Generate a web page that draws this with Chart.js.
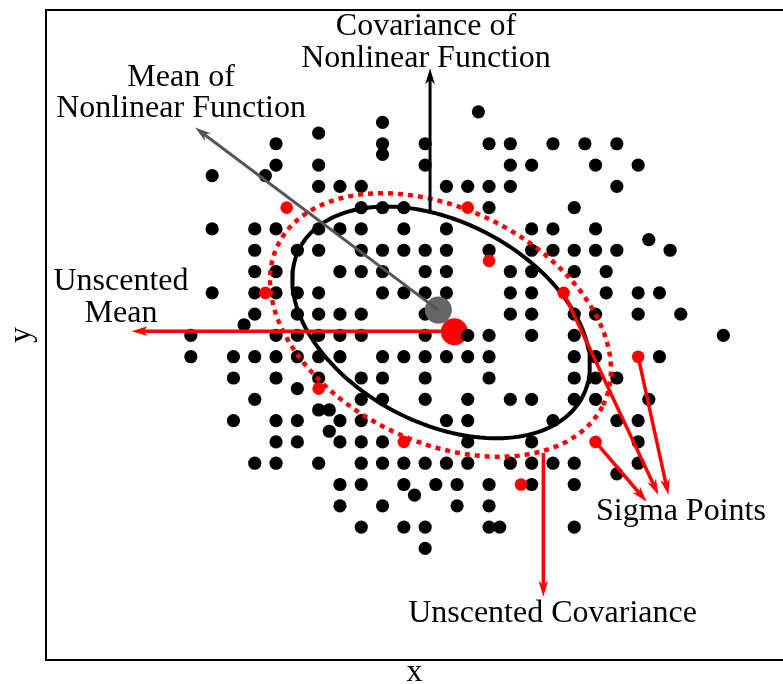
<!DOCTYPE html>
<html>
<head>
<meta charset="utf-8">
<script src="https://cdn.jsdelivr.net/npm/chart.js@4.4.1/dist/chart.umd.min.js"></script>
<style>
  html, body { margin: 0; padding: 0; background: #fff; }
  #wrap { width: 783px; height: 684px; }
</style>
</head>
<body>
<div id="wrap"><canvas id="ukf" width="783" height="684"></canvas></div>
<script>
// samples pushed through the nonlinear function, one entry per row: [y, [x, x, ...]]
const sampleRows = [
  [1.05, [0.15]],
  [1.0, [-0.3]],
  [0.95, [-0.6]],
  [0.9, [-0.8, -0.3, -0.1, 0.2, 0.3, 0.5, 0.65, 0.8]],
  [0.85, [-0.3]],
  [0.8, [-0.8, -0.6, -0.1, 0.3, 0.4, 0.7, 0.9]],
  [0.75, [-1.1, -0.85]],
  [0.7, [-0.6, -0.5, -0.4, 0, 0.1, 0.2, 0.3, 0.8]],
  [0.6, [-0.4, -0.3, -0.2, 0.2, 0.6]],
  [0.5, [-1.1, -0.9, -0.8, -0.6, -0.5, -0.4, -0.2, 0, 0.4, 0.5, 0.7]],
  [0.45, [0.95]],
  [0.4, [-0.9, -0.7, -0.6, -0.4, -0.3, -0.2, -0.1, 0, 0.2, 0.4, 0.5, 0.6, 0.7, 0.8, 1.05]],
  [0.3, [-0.9, -0.8, -0.5, -0.4, -0.3, -0.1, 0, 0.3, 0.4, 0.6, 0.75]],
  [0.2, [-1.1, -0.9, -0.8, -0.7, -0.6, -0.3, -0.2, -0.1, 0, 0.3, 0.4, 0.75, 0.9, 1.0]],
  [0.1, [-0.9, -0.7, -0.6, -0.5, -0.4, -0.1, 0.3, 0.4, 0.6, 0.7, 0.9, 1.1]],
  [0.05, [-0.95]],
  [0, [-1.2, -0.8, -0.7, -0.6, -0.5, -0.4, -0.1, 0.1, 0.2, 0.4, 0.6, 1.3]],
  [-0.1, [-1.2, -1.0, -0.9, -0.8, -0.7, -0.6, -0.5, -0.3, -0.2, -0.1, 0, 0.1, 0.2, 0.6, 0.7, 1.0]],
  [-0.2, [-1.0, -0.8, -0.6, -0.4, -0.3, -0.1, 0.2, 0.6, 0.7, 0.8]],
  [-0.25, [-0.7]],
  [-0.3, [-0.9, -0.4, -0.3, -0.1, 0.1, 0.3, 0.4, 0.6, 0.7, 0.95]],
  [-0.35, [-0.6, -0.55]],
  [-0.4, [-1.0, -0.8, -0.7, -0.5, -0.4, 0, 0.1, 0.5, 0.8, 0.9]],
  [-0.45, [-0.55]],
  [-0.5, [-0.8, -0.7, -0.5, -0.4, -0.3, 0.1, 0.4, 0.9]],
  [-0.6, [-0.9, -0.8, -0.6, -0.4, -0.3, -0.2, -0.1, 0, 0.1, 0.3, 0.4, 0.5, 0.6, 0.9]],
  [-0.65, [0.8]],
  [-0.7, [-0.5, -0.4, -0.2, -0.05, 0.05, 0.2, 0.4, 0.6]],
  [-0.75, [-0.15]],
  [-0.8, [-0.5, -0.3, 0.05, 0.2]],
  [-0.9, [-0.4, -0.2, -0.1, 0.2, 0.25, 0.6]],
  [-1.0, [-0.1]]
];

// transformed sigma points
const sigmaX = [-0.75, 0.1, 0.2, -0.85, 0.55, -0.6, -0.2, 0.7, 0.35, 0.9];
const sigmaY = [0.6, 0.6, 0.35, 0.2, 0.2, -0.25, -0.5, -0.5, -0.7, -0.1];

const trueMean = [-0.038, 0.119];
const unscentedMean = [0.037, 0.017];

// covariance ellipses: [cx, cy, semi-major, semi-minor, tilt in degrees]
const trueCov = [-0.025, 0.061, 0.750, 0.471, -27.8];
const unscentedCov = [-0.028, 0.049, 0.851, 0.547, -26.3];

// annotation arrows: [fromX, fromY, toX, toY, colour, width]
const arrows = [
  [trueMean[0], trueMean[1], -1.180, 0.976, '#555555', 3],
  [-0.077, 0.584, -0.077, 1.255, '#000000', 3],
  [unscentedMean[0], 0.02, -1.478, 0.02, '#ff0000', 3.5],
  [0.455, -0.552, 0.455, -1.227, '#ff0000', 3.5],
  [0.55, 0.2, 0.995, -0.749, '#ff0000', 3.5],
  [0.7, -0.5, 0.940, -0.781, '#ff0000', 3.5],
  [0.9, -0.1, 1.042, -0.749, '#ff0000', 3.5]
];

// annotation text, anchored at the centre of its baseline
const notes = [
  ['Covariance of', -0.096, 1.410],
  ['Nonlinear Function', -0.096, 1.262],
  ['Mean of', -1.246, 1.171],
  ['Nonlinear Function', -1.246, 1.024],
  ['Unscented', -1.528, 0.213],
  ['Mean', -1.528, 0.064],
  ['Sigma Points', 1.101, -0.867],
  ['Unscented Covariance', 0.498, -1.344]
];

const FONT = '32px "Liberation Serif", "Times New Roman", serif';

const samples = [];
sampleRows.forEach(function (row) {
  row[1].forEach(function (x) { samples.push({ x: x, y: row[0] }); });
});

const sigmaPts = sigmaX.map(function (x, i) { return { x: x, y: sigmaY[i] }; });

// trace an ellipse outline from its centre, semi-axes and tilt
function ellipseOutline(e) {
  const pts = [];
  const phi = e[4] * Math.PI / 180;
  const n = 160;
  for (let i = 0; i <= n; i++) {
    const t = 2 * Math.PI * i / n;
    const u = e[2] * Math.cos(t), v = e[3] * Math.sin(t);
    pts.push({
      x: e[0] + u * Math.cos(phi) - v * Math.sin(phi),
      y: e[1] + u * Math.sin(phi) + v * Math.cos(phi)
    });
  }
  return pts;
}

function drawArrow(ctx, x0, y0, x1, y1, color, width) {
  const len = 16, half = 4.8;
  const ang = Math.atan2(y1 - y0, x1 - x0);
  const c = Math.cos(ang), s = Math.sin(ang);
  const bx = x1 - c * len, by = y1 - s * len;
  const nx = x1 - c * len * 0.72, ny = y1 - s * len * 0.72;
  ctx.strokeStyle = color;
  ctx.lineWidth = width;
  ctx.lineCap = 'butt';
  ctx.beginPath();
  ctx.moveTo(x0, y0);
  ctx.lineTo(nx, ny);
  ctx.stroke();
  ctx.fillStyle = color;
  ctx.beginPath();
  ctx.moveTo(x1, y1);
  ctx.lineTo(bx - s * half, by + c * half);
  ctx.lineTo(nx, ny);
  ctx.lineTo(bx + s * half, by - c * half);
  ctx.closePath();
  ctx.fill();
}

// frame on the left, top and bottom of the plot area
const framePlugin = {
  id: 'frame',
  beforeDatasetsDraw(chart) {
    const a = chart.chartArea, ctx = chart.ctx;
    ctx.save();
    ctx.strokeStyle = '#000';
    ctx.lineWidth = 2;
    ctx.beginPath();
    ctx.moveTo(a.right + 2, a.top);
    ctx.lineTo(a.left, a.top);
    ctx.lineTo(a.left, a.bottom);
    ctx.lineTo(a.right + 2, a.bottom);
    ctx.stroke();
    ctx.restore();
  }
};

// arrows, annotation text and axis titles
const notesPlugin = {
  id: 'notes',
  afterDatasetsDraw(chart) {
    const xs = chart.scales.x, ys = chart.scales.y, ctx = chart.ctx;
    const a = chart.chartArea;
    ctx.save();
    arrows.forEach(function (ar) {
      drawArrow(ctx, xs.getPixelForValue(ar[0]), ys.getPixelForValue(ar[1]),
        xs.getPixelForValue(ar[2]), ys.getPixelForValue(ar[3]), ar[4], ar[5]);
    });
    ctx.fillStyle = '#000';
    ctx.font = FONT;
    ctx.textAlign = 'center';
    ctx.textBaseline = 'alphabetic';
    notes.forEach(function (n) {
      ctx.fillText(n[0], xs.getPixelForValue(n[1]), ys.getPixelForValue(n[2]));
    });
    ctx.fillText('x', (a.left + a.right) / 2, a.bottom + 21);
    ctx.translate(a.left - 16, (a.top + a.bottom) / 2);
    ctx.rotate(-Math.PI / 2);
    ctx.fillText('y', 0, 0);
    ctx.restore();
  }
};

new Chart(document.getElementById('ukf').getContext('2d'), {
  type: 'scatter',
  data: {
    datasets: [
      {
        label: 'Unscented Mean',
        data: [{ x: unscentedMean[0], y: unscentedMean[1] }],
        pointRadius: 13.5,
        backgroundColor: '#ff0000',
        borderWidth: 0,
        order: 6
      },
      {
        label: 'Samples',
        data: samples,
        pointRadius: 6.6,
        backgroundColor: '#000000',
        borderWidth: 0,
        order: 5
      },
      {
        label: 'Covariance of Nonlinear Function',
        data: ellipseOutline(trueCov),
        showLine: true,
        pointRadius: 0,
        borderColor: '#000000',
        borderWidth: 4,
        fill: false,
        order: 4
      },
      {
        label: 'Unscented Covariance',
        data: ellipseOutline(unscentedCov),
        showLine: true,
        pointRadius: 0,
        borderColor: '#ff0000',
        borderWidth: 4.5,
        borderDash: [5, 5],
        fill: false,
        order: 3
      },
      {
        label: 'Sigma Points',
        data: sigmaPts,
        pointRadius: 6.3,
        backgroundColor: '#ff0000',
        borderWidth: 0,
        order: 2
      },
      {
        label: 'Mean of Nonlinear Function',
        data: [{ x: trueMean[0], y: trueMean[1] }],
        pointRadius: 13.5,
        backgroundColor: '#666666',
        borderWidth: 0,
        order: 1
      }
    ]
  },
  options: {
    responsive: false,
    animation: false,
    devicePixelRatio: 1,
    layout: { autoPadding: false, padding: { left: 46, top: 10, right: 0, bottom: 24 } },
    scales: {
      x: { type: 'linear', min: -1.88, max: 1.58, display: false },
      y: { type: 'linear', min: -1.524, max: 1.528, display: false }
    },
    plugins: {
      legend: { display: false },
      tooltip: { enabled: false }
    }
  },
  plugins: [framePlugin, notesPlugin]
});
</script>
</body>
</html>
